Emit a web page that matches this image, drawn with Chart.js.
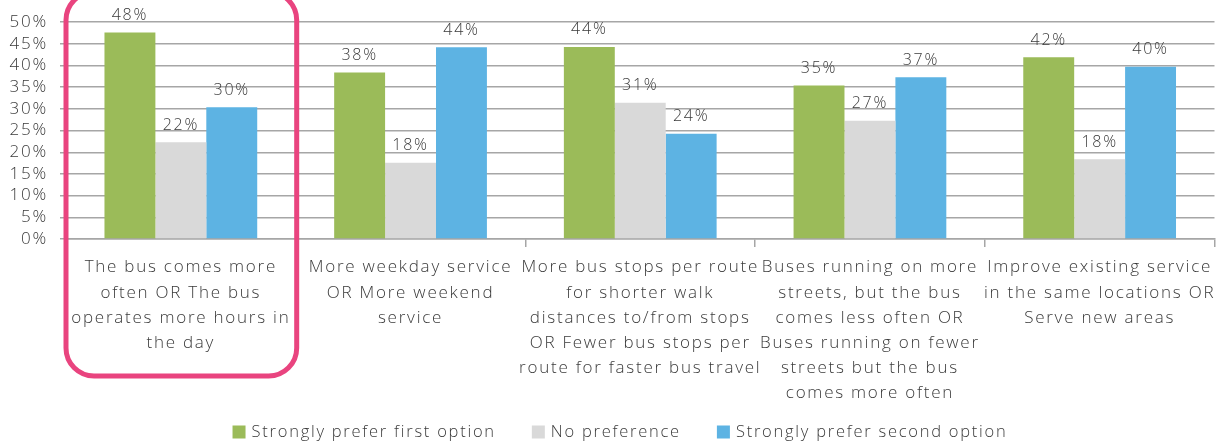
<!DOCTYPE html>
<html lang="en">
<head>
  <meta charset="UTF-8" />
  <title>Bus service preferences</title>
  <script src="https://cdn.jsdelivr.net/npm/chart.js"></script>
  <style>
    body { margin: 0; background: #ffffff; }
    #wrap { width: 1224px; height: 444px; }
  </style>
</head>
<body>
  <div id="wrap"><canvas id="chart" width="1224" height="444"></canvas></div>
  <script>
    // categories (x-axis labels, already split in lines as in the picture)
    const categories = [
      ["The bus comes more", "often OR The bus", "operates more hours in", "the day"],
      ["More weekday service", "OR More weekend", "service"],
      ["More bus stops per route", "for shorter walk", "distances to/from stops", "OR Fewer bus stops per", "route for faster bus travel"],
      ["Buses running on more", "streets, but the bus", "comes less often OR", "Buses running on fewer", "streets but the bus", "comes more often"],
      ["Improve existing service", "in the same locations OR", "Serve new areas"]
    ];
    const firstOption = [47.6, 38.4, 44.3, 35.4, 41.9];
    const noPreference = [22.3, 17.6, 31.4, 27.3, 18.4];
    const secondOption = [30.4, 44.2, 24.3, 37.3, 39.7];
    const yTicks = [0, 5, 10, 15, 20, 25, 30, 35, 40, 45, 50];

    const FONT = "'Open Sans', 'DejaVu Sans', sans-serif";
    const WEIGHT = 300;
    const TEXT = '#3a3a3a';
    const SPACING = '1.75px';

    // wider letters, closer to the original typeface
    const spacing = {
      id: 'spacing',
      beforeUpdate(chart) { chart.ctx.letterSpacing = SPACING; },
      beforeDraw(chart) { chart.ctx.letterSpacing = SPACING; }
    };

    // labels above bars
    const valueLabels = {
      id: 'valueLabels',
      afterDatasetsDraw(chart) {
        const ctx = chart.ctx;
        ctx.save();
        ctx.font = WEIGHT + ' 16px ' + FONT;
        ctx.fillStyle = TEXT;
        ctx.textAlign = 'center';
        ctx.textBaseline = 'middle';
        chart.data.datasets.forEach((ds, i) => {
          chart.getDatasetMeta(i).data.forEach((bar, j) => {
            ctx.fillText(Math.round(ds.data[j]) + '%', bar.x, bar.y - 17);
          });
        });
        ctx.restore();
      }
    };

    // legend under the labels, built from the datasets
    const bottomLegend = {
      id: 'bottomLegend',
      afterDraw(chart) {
        const ctx = chart.ctx;
        ctx.save();
        ctx.letterSpacing = SPACING;
        ctx.font = WEIGHT + ' 16.5px ' + FONT;
        ctx.textBaseline = 'middle';
        ctx.textAlign = 'left';
        const box = 13, gap = 6, space = 36, y = 432;
        const items = chart.data.datasets.map(ds => ({
          label: ds.label, color: ds.backgroundColor, w: box + gap + ctx.measureText(ds.label).width
        }));
        const total = items.reduce((s, it) => s + it.w, 0) + space * (items.length - 1);
        let x = 620 - total / 2;
        items.forEach(it => {
          ctx.fillStyle = it.color;
          ctx.fillRect(x, y - box / 2, box, box);
          ctx.fillStyle = TEXT;
          ctx.fillText(it.label, x + box + gap, y);
          x += it.w + space;
        });
        ctx.restore();
      }
    };

    // pink highlight round the first category
    const highlight = {
      id: 'highlight',
      afterDraw(chart) {
        const x = chart.scales.x;
        const half = (x.getPixelForTick(1) - x.getPixelForTick(0)) / 2;
        const cx = x.getPixelForTick(0);
        const left = cx - half, right = cx + half + 1;
        const top = -8, bottom = 376, r = 28;
        const ctx = chart.ctx;
        ctx.save();
        ctx.strokeStyle = '#e9447f';
        ctx.lineWidth = 5;
        ctx.beginPath();
        ctx.roundRect(left, top, right - left, bottom - top, r);
        ctx.stroke();
        ctx.restore();
      }
    };

    new Chart(document.getElementById('chart'), {
      type: 'bar',
      data: {
        labels: categories,
        datasets: [
          { label: 'Strongly prefer first option', data: firstOption, backgroundColor: '#9bbb59' },
          { label: 'No preference', data: noPreference, backgroundColor: '#d9d9d9' },
          { label: 'Strongly prefer second option', data: secondOption, backgroundColor: '#5db3e3' }
        ]
      },
      options: {
        responsive: false,
        animation: false,
        layout: { padding: { top: 10, right: 7, left: 0, bottom: 0 } },
        datasets: { bar: { barPercentage: 1, categoryPercentage: 0.665 } },
        plugins: {
          tooltip: { enabled: false },
          legend: { display: false }
        },
        scales: {
          x: {
            offset: true,
            grid: { offset: true, drawOnChartArea: false, color: '#a6a6a6', lineWidth: 1.5, tickLength: 8 },
            border: { color: '#a6a6a6', width: 1.5 },
            ticks: {
              font: { family: FONT, weight: WEIGHT, size: 17, lineHeight: 1.48 },
              color: TEXT,
              maxRotation: 0,
              autoSkip: false,
              padding: 8
            },
            afterFit(scale) { scale.height = 205; }
          },
          y: {
            min: 0,
            max: 50,
            afterBuildTicks(scale) { scale.ticks = yTicks.map(v => ({ value: v })); },
            grid: { color: '#a6a6a6', lineWidth: 1.5, drawTicks: true, tickLength: 6 },
            border: { display: false },
            ticks: {
              font: { family: FONT, weight: WEIGHT, size: 17 },
              color: TEXT,
              autoSkip: false,
              stepSize: 5,
              padding: 12,
              callback: v => v + '%'
            },
            afterFit(scale) { scale.width = 66; }
          }
        }
      },
      plugins: [spacing, valueLabels, bottomLegend, highlight]
    });
  </script>
</body>
</html>
